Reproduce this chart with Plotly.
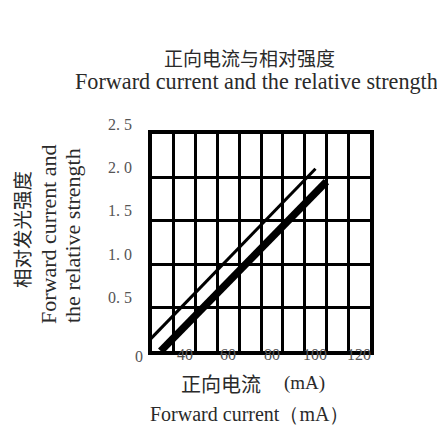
import plotly.graph_objects as go

# data
thick_x = [24, 100]
thick_y = [0.0, 1.95]
thin_x = [19, 95]
thin_y = [0.13, 2.10]

x_tick_vals = [40, 60, 80, 100, 120]
x_tick_text = ["40", "60", "80", "100", "120"]
y_tick_vals = [0.5, 1.0, 1.5, 2.0, 2.5]
y_tick_text = ["0. 5", "1. 0", "1. 5", "2. 0", "2. 5"]

W, H = 445, 428
OFF = 8  # page body margin shifts the whole figure
L, R, T, B = 152 - OFF, 370 - OFF, 134 - OFF, 351 - OFF  # plot area in figure pixels


def fx(p):
    return (p - OFF - L) / (R - L)


def fy(p):
    return (B - (p - OFF)) / (B - T)


serif = "Liberation Serif, Times New Roman, serif"
cjk = "Noto Sans CJK SC, sans-serif"
text_col = "#2a2a2a"
tick_col = "#555555"

fig = go.Figure()
fig.add_trace(go.Scatter(x=thin_x, y=thin_y, mode="lines",
                         line=dict(color="black", width=3), showlegend=False))
fig.add_trace(go.Scatter(x=thick_x, y=thick_y, mode="lines",
                         line=dict(color="black", width=7.5), showlegend=False))

annotations = []
for v, t in zip(x_tick_vals, x_tick_text):
    annotations.append(dict(x=v, y=0, xref="x", yref="y", text=t, showarrow=False,
                            xanchor="center", yanchor="middle",
                            xshift=-11, yshift=-3, font=dict(family=serif, size=16, color=tick_col)))
for v, t in zip(y_tick_vals, y_tick_text):
    annotations.append(dict(x=fx(120), y=v, xref="paper", yref="y", text=t, showarrow=False,
                            xanchor="center", yanchor="middle",
                            yshift=10, font=dict(family=serif, size=16, color=tick_col)))
annotations.append(dict(x=fx(139), y=fy(356), xref="paper", yref="paper", text="0",
                        xanchor="center", yanchor="middle",
                        showarrow=False, font=dict(family=serif, size=16, color=tick_col)))

# titles
titles = [
    dict(x=fx(249), y=fy(57), text="正向电流与相对强度", font=dict(family=cjk, size=19, color=text_col)),
    dict(x=fx(256), y=fy(82), text="Forward current and the relative strength",
         font=dict(family=serif, size=22.2, color=text_col)),
    dict(x=fx(21), y=fy(230), text="相对发光强度", textangle=-90, font=dict(family=cjk, size=19.5, color=text_col)),
    dict(x=fx(48), y=fy(234), text="Forward current and", textangle=-90,
         font=dict(family=serif, size=22, color=text_col)),
    dict(x=fx(72), y=fy(236), text="the relative strength", textangle=-90,
         font=dict(family=serif, size=22, color=text_col)),
    dict(x=fx(221), y=fy(383), text="正向电流", font=dict(family=cjk, size=20, color=text_col)),
    dict(x=fx(304), y=fy(383), text="(mA)", font=dict(family=serif, size=19, color=text_col)),
    dict(x=fx(249), y=fy(414), text="Forward current（mA）", font=dict(family=serif, size=20, color=text_col)),
]
for a in titles:
    a.update(xref="paper", yref="paper", showarrow=False, xanchor="center", yanchor="middle", borderpad=0)
annotations += titles

fig.update_xaxes(range=[20, 120], dtick=10, tick0=0, showgrid=True, gridcolor="black", gridwidth=3,
                 showline=True, linecolor="black", linewidth=4, mirror=True,
                 showticklabels=False, ticks="", zeroline=False, fixedrange=True)
fig.update_yaxes(range=[0, 2.5], dtick=0.5, tick0=0, showgrid=True, gridcolor="black", gridwidth=3,
                 showline=True, linecolor="black", linewidth=4, mirror=True,
                 showticklabels=False, ticks="", zeroline=False, fixedrange=True)

fig.update_layout(
    width=W, height=H,
    margin=dict(l=L, r=W - R, t=T, b=H - B),
    paper_bgcolor="white", plot_bgcolor="white",
    annotations=annotations,
    showlegend=False,
)

fig.write_html("out.html", config={"displayModeBar": False})
